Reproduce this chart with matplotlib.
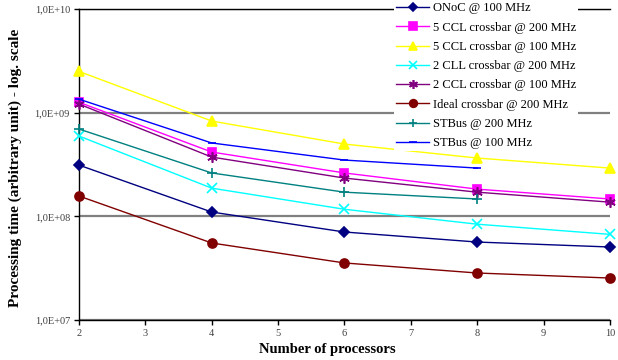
import math

import matplotlib
matplotlib.use("Agg")
import matplotlib.pyplot as plt
from matplotlib.ticker import FixedLocator, FuncFormatter

plt.rcParams["font.family"] = ["Liberation Serif", "DejaVu Serif"]

processors = [2, 4, 6, 8, 10]
stbus_processors = [2, 4, 6, 8]

onoc_100 = [3.12e8, 1.10e8, 7.06e7, 5.65e7, 5.06e7]
ccl5_200 = [1.26e9, 4.17e8, 2.62e8, 1.83e8, 1.47e8]
ccl5_100 = [2.50e9, 8.30e8, 4.98e8, 3.65e8, 2.92e8]
cll2_200 = [5.95e8, 1.87e8, 1.17e8, 8.40e7, 6.70e7]
ccl2_100 = [1.21e9, 3.73e8, 2.34e8, 1.71e8, 1.37e8]
ideal_200 = [1.57e8, 5.53e7, 3.55e7, 2.84e7, 2.54e7]
stbus_200 = [6.95e8, 2.62e8, 1.71e8, 1.47e8]
stbus_100 = [1.35e9, 5.10e8, 3.49e8, 2.92e8]

series = [
    ("ONoC @ 100 MHz", processors, onoc_100, "#000080", "D", 5),
    ("5 CCL crossbar @ 200 MHz", processors, ccl5_200, "#FF00FF", "s", 6),
    ("5 CCL crossbar @ 100 MHz", processors, ccl5_100, "#FFFF00", "^", 6.5),
    ("2 CLL crossbar @ 200 MHz", processors, cll2_200, "#00FFFF", "x", 6.5),
    ("2 CCL crossbar @ 100 MHz", processors, ccl2_100, "#800080", (6, 2, 0), 7.5),
    ("Ideal crossbar @ 200 MHz", processors, ideal_200, "#800000", "o", 6.5),
    ("STBus @ 200 MHz", stbus_processors, stbus_200, "#008080", "+", 7.5),
    ("STBus @ 100 MHz", stbus_processors, stbus_100, "#0000FF", "_", 6),
]

fig = plt.figure(figsize=(6.18, 3.6), dpi=100)
ax = fig.add_axes([0.1278, 0.1111, 0.8592, 0.8639])

for label, xs, ys, color, marker, size in series:
    ax.plot(xs, ys, color=color, lw=1.0, marker=marker, markersize=size,
            markeredgewidth=1.2, markerfacecolor=color, markeredgecolor=color,
            label=label, clip_on=False, zorder=3)

ax.set_yscale("log")
ax.set_ylim(1e7, 1e10)
ax.set_xlim(2, 10)
ax.yaxis.set_major_locator(FixedLocator([1e7, 1e8, 1e9, 1e10]))
ax.yaxis.set_minor_locator(FixedLocator([]))
ax.yaxis.set_major_formatter(FuncFormatter(lambda v, _: "1,0E+%02d" % round(math.log10(v))))
ax.set_xticks(range(2, 11))

ax.grid(axis="y", color="#808080", lw=1.6, zorder=1)
ax.spines["right"].set_visible(False)
for side in ("left", "bottom", "top"):
    ax.spines[side].set_linewidth(1.0)
ax.tick_params(axis="both", direction="out", length=3.5, width=1.0, labelsize=7.5,
               labelcolor="#404040", pad=3)

ax.set_xlabel("Number of processors", fontsize=10.5, fontweight="bold")
ax.xaxis.set_label_coords(0.467, -0.075)
ax.set_ylabel("Processing time (arbitrary unit) - log. scale", fontsize=11,
              fontweight="bold")
ax.yaxis.set_label_coords(-0.107, 0.49)

leg = ax.legend(loc="upper left", bbox_to_anchor=(0.594, 1.027), fontsize=9,
                frameon=True, fancybox=False, borderpad=0.15, labelspacing=0.58,
                handlelength=2.6, handletextpad=0.35, borderaxespad=0,
                markerscale=0.85)
leg.get_frame().set_facecolor("white")
leg.get_frame().set_edgecolor("none")
leg.get_frame().set_alpha(1)
leg.set_zorder(10)

fig.savefig("out.png", dpi=100)
